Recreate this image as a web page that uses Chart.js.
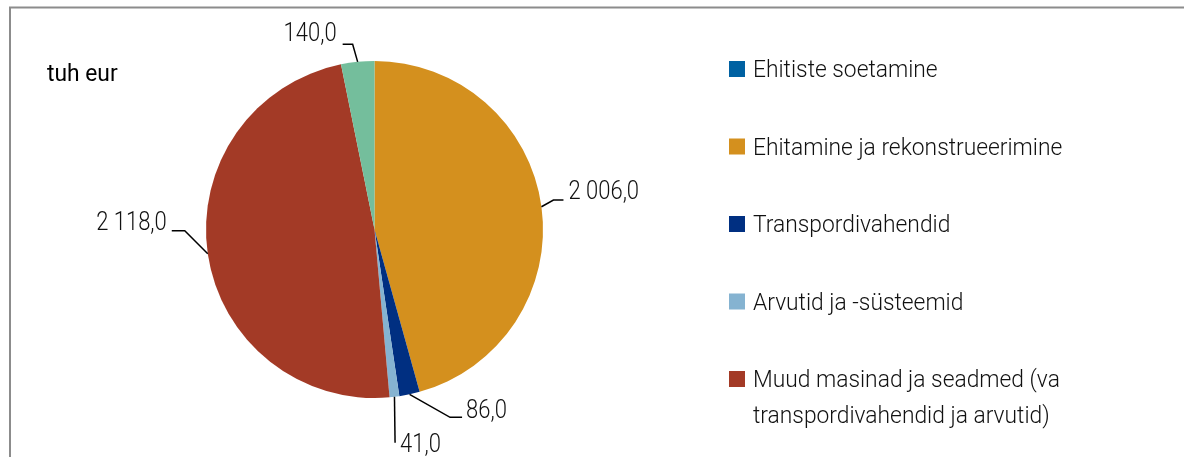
<!DOCTYPE html>
<html>
<head>
<meta charset="utf-8">
<script src="https://cdn.jsdelivr.net/npm/chart.js@4/dist/chart.umd.min.js"></script>
<style>
html,body{margin:0;padding:0;background:#fff;overflow:hidden;}
canvas{display:block;}
</style>
</head>
<body>
<canvas id="c" width="1184" height="457"></canvas>
<script>
// ---- data ----
const categories = [
  "Ehitiste soetamine",
  "Ehitamine ja rekonstrueerimine",
  "Transpordivahendid",
  "Arvutid ja -süsteemid",
  "Muud masinad ja seadmed (va transpordivahendid ja arvutid)",
  "Immateriaalne põhivara"
];
const values = [0, 2006.0, 86.0, 41.0, 2118.0, 140.0];
const colors = ["#0061a2", "#d4901e", "#002f81", "#85b3d1", "#a33a26", "#74be9c"];
const unitLabel = "tuh eur";

// ---- styles ----
const FONT = "Roboto, 'Liberation Sans', sans-serif";
// leader layout per slice: elbow offset from edge, horizontal length, text gap, baseline offset
const leader = {
  1: {ex: 12, ey: -6.6, h: 10, gap: 5, by: -1},
  2: {ex: 40.5, ey: 23, h: 12, gap: 4, by: 1},
  3: {ex: 0.6, ey: 46, h: 0, gap: 5, by: 9},
  4: {ex: -23, ey: -23, h: -13, gap: 5, by: -1},
  5: {ex: -5, ey: -17.5, h: -10, gap: 6, by: -3}
};

function fmt(v){
  const s = v.toFixed(1).split('.');
  const int = s[0].replace(/\B(?=(\d{3})+(?!\d))/g, ' ');
  return int + ',' + s[1];
}

function drawText(ctx, text, x, y, align, font, color, sx){
  ctx.save();
  ctx.font = font;
  ctx.fillStyle = color;
  ctx.textBaseline = 'alphabetic';
  ctx.textAlign = 'left';
  const w = ctx.measureText(text).width * sx;
  let lx = x;
  if (align === 'right') lx = x - w;
  ctx.translate(lx, y);
  ctx.scale(sx, 1);
  ctx.fillText(text, 0, 0);
  ctx.restore();
  return w;
}

const overlay = {
  id: 'overlay',
  afterDraw(chart){
    const ctx = chart.ctx;
    // frame
    ctx.save();
    ctx.strokeStyle = '#8c8c8c';
    ctx.lineWidth = 2;
    ctx.beginPath();
    ctx.moveTo(10, 460); ctx.lineTo(10, 7.5); ctx.lineTo(1190, 7.5);
    ctx.stroke();
    ctx.restore();

    // unit label
    drawText(ctx, unitLabel, 47, 81, 'left', "400 24px " + FONT, '#000', 0.95);

    // data labels with leaders
    const meta = chart.getDatasetMeta(0);
    meta.data.forEach((arc, i) => {
      const L = leader[i];
      if (!L || !values[i]) return;
      const mid = (arc.startAngle + arc.endAngle) / 2;
      const r = arc.outerRadius;
      const px = arc.x + r * Math.cos(mid);
      const py = arc.y + r * Math.sin(mid);
      const qx = px + L.ex, qy = py + L.ey;
      const hx = qx + L.h;
      ctx.save();
      ctx.strokeStyle = '#000';
      ctx.lineWidth = 1.5;
      ctx.beginPath();
      ctx.moveTo(px, py); ctx.lineTo(qx, qy);
      if (L.h) ctx.lineTo(hx, qy);
      ctx.stroke();
      ctx.restore();
      const goRight = L.h > 0 || (L.h === 0 && L.ex >= 0);
      if (goRight) drawText(ctx, fmt(values[i]), hx + L.gap, qy + L.by, 'left', "300 25px " + FONT, '#111', 0.88);
      else drawText(ctx, fmt(values[i]), hx - L.gap, qy + L.by, 'right', "300 25px " + FONT, '#111', 0.88);
    });

    // legend
    const lf = "300 24px " + FONT;
    const LSX = 0.95;
    ctx.save();
    ctx.font = lf;
    const maxW = 318;
    let base = 77;
    categories.forEach((cat, i) => {
      ctx.fillStyle = colors[i];
      ctx.fillRect(729, base - 16, 16, 16);
      const words = cat.split(' ');
      const lines = [];
      let cur = '';
      words.forEach(w => {
        const t = cur ? cur + ' ' + w : w;
        if (ctx.measureText(t).width * LSX > maxW && cur) { lines.push(cur); cur = w; }
        else cur = t;
      });
      lines.push(cur);
      lines.forEach((ln, k) => {
        drawText(ctx, ln, 753, base + k * 36, 'left', lf, '#111', LSX);
      });
      base += 77.5 + (lines.length - 1) * 36;
    });
    ctx.restore();
  }
};

new Chart(document.getElementById('c'), {
  type: 'pie',
  data: {
    labels: categories,
    datasets: [{
      data: values,
      backgroundColor: colors,
      borderWidth: 0
    }]
  },
  options: {
    responsive: false,
    animation: false,
    layout: {padding: {left: 206, right: 641, top: 61, bottom: 59}},
    plugins: {
      legend: {display: false},
      tooltip: {enabled: false}
    }
  },
  plugins: [overlay]
});
</script>
</body>
</html>
